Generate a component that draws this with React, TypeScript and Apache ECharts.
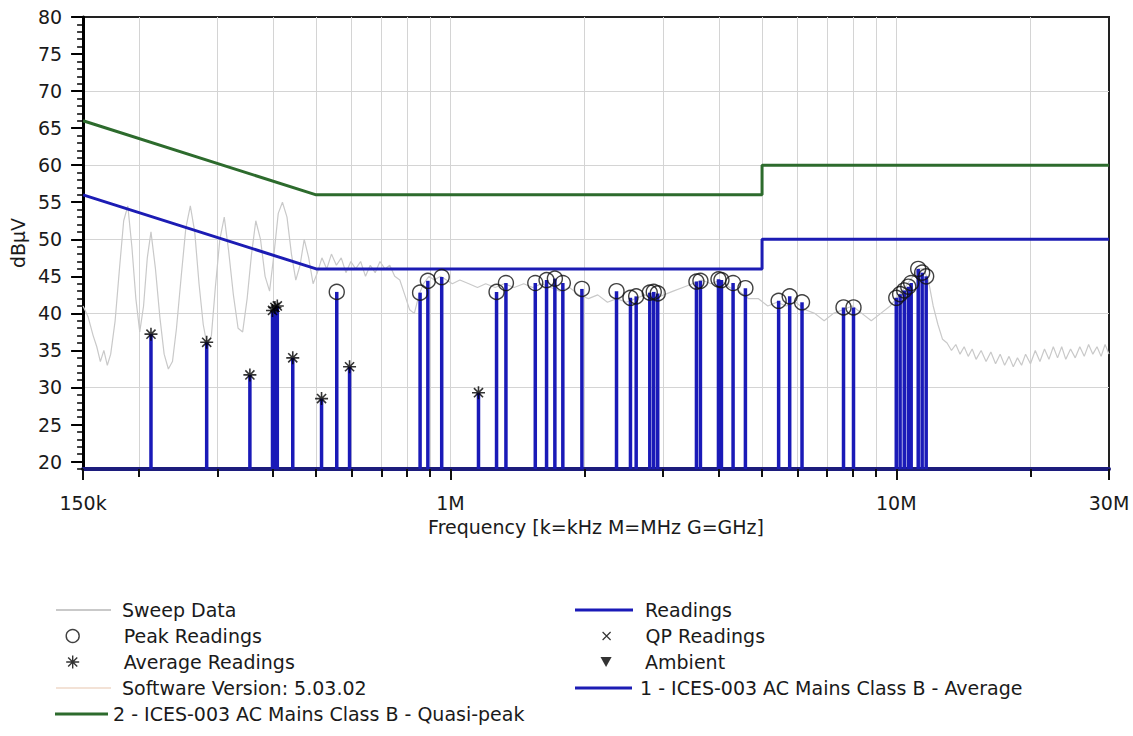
import React, { useEffect, useRef } from 'react';
import * as echarts from 'echarts';

// ---------- axes ----------
const FREQ_MIN = 150000;
const FREQ_MAX = 30000000;
const LEVEL_MIN = 19;
const LEVEL_MAX = 80;
const yLabelValues = [20, 25, 30, 35, 40, 45, 50, 55, 60, 65, 70, 75, 80];
const yGridValues = [30, 40, 50, 60, 70];
const xLabelValues = [150000, 1000000, 10000000, 30000000];
const xMinorValues = [
  200000, 300000, 400000, 500000, 600000, 700000, 800000, 900000, 1000000,
  2000000, 3000000, 4000000, 5000000, 6000000, 7000000, 8000000, 9000000, 10000000,
  20000000,
];

// ---------- limit lines ----------
const qpLimitFreq = [150000, 500000, 5000000, 5000000, 30000000];
const qpLimitLevel = [66, 56, 56, 60, 60];
const avgLimitFreq = [150000, 500000, 5000000, 5000000, 30000000];
const avgLimitLevel = [56, 46, 46, 50, 50];

// ---------- sweep trace (kHz, dBµV) ----------
const sweepFreqKHz = [
  150, 154, 158, 161, 164, 167, 170, 173, 177, 181, 185, 189, 193, 197, 201, 205, 209, 213, 218, 223,
  228, 233, 238, 243, 249, 255, 261, 267, 273, 279, 285, 291, 297, 304, 311, 318, 326, 334, 342, 350,
  358, 366, 375, 384, 393, 402, 411, 420, 430, 440, 450, 460, 470, 481, 492, 503, 515, 528, 541, 555,
  569, 583, 598, 613, 629, 645, 661, 678, 695, 713, 731, 750, 770, 790, 810, 830, 850, 870, 895, 920,
  950, 980, 1010, 1050, 1100, 1150, 1200, 1260, 1320, 1390, 1460, 1530, 1600, 1680, 1760, 1850, 1940,
  2040, 2140, 2250, 2360, 2480, 2600, 2730, 2870, 3010, 3160, 3320, 3490, 3660, 3840, 4030, 4230, 4440,
  4660, 4900, 5150, 5400, 5670, 5950, 6250, 6560, 6890, 7230, 7590, 7970, 8370, 8790, 9230, 9690, 10000,
  10300, 10600, 10900, 11200, 11500, 11800, 12100, 12400, 12700, 13000, 13300, 13600, 13900, 14200,
  14500, 14800, 15100, 15500, 15900, 16300, 16700, 17100, 17500, 17900, 18300, 18700, 19100, 19500,
  20000, 20500, 21000, 21500, 22000, 22500, 23000, 23500, 24000, 24600, 25200, 25800, 26400, 27000,
  27600, 28200, 28800, 29400, 30000,
];
const sweepLevel = [
  41.0, 39.5, 37.0, 35.5, 33.5, 35.0, 33.0, 34.5, 39.0, 46.0, 52.5, 54.5, 49.0, 42.0, 37.5, 41.0, 47.5, 51.0, 46.0, 39.5,
  34.5, 32.5, 33.5, 38.0, 45.0, 51.5, 54.5, 51.0, 44.0, 38.5, 35.5, 37.0, 43.5, 50.0, 53.0, 48.5, 42.5, 38.0, 37.5, 42.0,
  48.0, 52.5, 50.0, 45.0, 43.0, 48.0, 53.5, 55.0, 53.0, 48.0, 44.5, 46.5, 50.0, 47.5, 44.0, 45.5, 47.5, 46.0, 48.0, 46.5,
  47.5, 45.5, 47.0, 46.0, 47.0, 45.0, 46.5, 45.5, 47.0, 46.0, 46.5, 45.0, 44.5, 42.5, 40.5, 40.0, 42.5, 44.0, 45.0, 44.5,
  45.0, 44.5, 44.0, 44.5, 44.0, 43.5, 44.0, 43.5, 44.0, 43.5, 44.0, 43.5, 44.0, 43.5, 43.0, 43.5, 42.5,
  42.0, 42.5, 41.5, 42.0, 41.5, 42.0, 42.5, 42.0, 42.5, 43.0, 43.5, 44.0, 44.5, 44.0, 44.5, 43.5, 43.0,
  42.0, 42.0, 41.0, 41.5, 41.0, 41.5, 40.5, 40.0, 39.0, 40.0, 40.5, 41.0, 40.0, 39.0, 40.0, 41.0, 42.0,
  43.0, 44.0, 45.0, 46.0, 46.0, 44.5, 41.0, 38.5, 36.5, 36.0, 35.0, 35.8, 34.5, 35.5,
  34.2, 35.2, 33.8, 35.0, 33.5, 34.8, 33.2, 34.5, 33.0, 34.2, 32.8, 34.0, 33.0, 34.5,
  33.2, 35.0, 33.5, 35.2, 33.8, 35.5, 34.0, 35.5, 33.8, 35.2, 34.0, 35.5, 34.2, 35.8,
  34.5, 35.5, 34.2, 35.8, 34.5,
];

// ---------- readings ----------
const peakFreqKHz = [
  556, 855, 890, 956, 1269, 1332, 1550, 1643, 1715, 1787, 1972, 2358, 2534, 2610, 2800, 2858, 2917,
  3563, 3637, 3992, 4054, 4305, 4588, 5447, 5767, 6146, 7615, 8018, 10000, 10200, 10420, 10640, 10800,
  11200, 11430, 11670,
];
const peakLevel = [
  42.9, 42.8, 44.4, 44.9, 42.9, 44.1, 44.1, 44.5, 44.7, 44.1, 43.3, 43.0, 42.1, 42.3, 42.8, 42.9, 42.7,
  44.3, 44.4, 44.6, 44.5, 44.1, 43.4, 41.7, 42.3, 41.5, 40.8, 40.8, 42.1, 42.6, 43.1, 43.6, 44.1,
  46.0, 45.5, 45.0,
];
const averageFreqKHz = [213, 284, 355, 399, 404, 409, 443, 514, 594, 1156];
const averageLevel = [37.2, 36.1, 31.7, 40.4, 40.8, 41.0, 34.0, 28.5, 32.8, 29.3];

// ---------- colours ----------
const SWEEP_COLOR = '#c9c9c9';
const QP_COLOR = '#2d6b2d';
const AVG_COLOR = '#1c1cb4';
const STEM_COLOR = '#1a1ab8';
const FONT = 'DejaVu Sans';

const ASTERISK =
  'path://M6 0L6 12M0 6L12 6M1.8 1.8L10.2 10.2M1.8 10.2L10.2 1.8';
const CROSS = 'path://M0 0L8 8M0 8L8 0';
const DOWN_TRIANGLE = 'path://M0 0L10 0L5 9Z';

const pairs = (xs: number[], ys: number[], scale = 1) => xs.map((x, i) => [x * scale, ys[i]]);

function buildOption() {
  const sweep = pairs(sweepFreqKHz, sweepLevel, 1000);
  const peaks = pairs(peakFreqKHz, peakLevel, 1000);
  const avgs = pairs(averageFreqKHz, averageLevel, 1000);
  const readings = [...avgs, ...peaks];

  const legendText = { fontFamily: FONT, fontSize: 19, color: '#1a1a1a', lineHeight: 22 };
  const mkLegend = (
    name: string,
    left: number,
    centerY: number,
    itemWidth: number,
    itemHeight: number,
    icon: string,
    itemStyle: any,
    textPad: number,
  ) => ({
    show: true,
    orient: 'horizontal',
    left,
    top: centerY - 11,
    padding: 0,
    itemWidth,
    itemHeight,
    selectedMode: false,
    data: [{ name, icon, itemStyle }],
    textStyle: { ...legendText, padding: [0, 0, 0, textPad] },
  });

  const fmtFreq = (v: number) => {
    const r = Math.round(v);
    if (r >= 1000000) return Math.round(r / 1000000) + 'M';
    return Math.round(r / 1000) + 'k';
  };

  return {
    animation: false,
    backgroundColor: '#ffffff',
    textStyle: { fontFamily: FONT },
    grid: {
      left: 82,
      right: 24,
      top: 17,
      bottom: 267,
      show: true,
      borderColor: '#222',
      borderWidth: 2,
      backgroundColor: 'transparent',
    },
    legend: [
      mkLegend('Sweep Data', 56, 610, 55, 2, 'rect', { color: SWEEP_COLOR, borderWidth: 0 }, 6),
      mkLegend('Peak Readings', 65.5, 636, 55, 13, 'circle', { color: '#fff', borderColor: '#111', borderWidth: 1.4 }, 18.5),
      mkLegend('Average Readings', 65.5, 662, 55, 13, ASTERISK, { color: '#000', borderColor: '#000', borderWidth: 1.4 }, 18.5),
      mkLegend('Software Version: 5.03.02', 56, 688, 55, 2, 'rect', { color: '#f3e2d6', borderWidth: 0 }, 6),
      mkLegend('2 - ICES-003 AC Mains Class B - Quasi-peak', 55, 714, 53, 3, 'rect', { color: QP_COLOR, borderWidth: 0 }, 0),
      mkLegend('Readings', 575, 610, 58, 3, 'rect', { color: STEM_COLOR, borderWidth: 0 }, 7),
      mkLegend('QP Readings', 602, 636, 58, 8, CROSS, { color: '#000', borderColor: '#000', borderWidth: 1.2 }, 5),
      mkLegend('Ambient', 600.5, 662, 58, 10, DOWN_TRIANGLE, { color: '#000', borderWidth: 0 }, 5),
      mkLegend('1 - ICES-003 AC Mains Class B - Average', 575, 688, 57, 3, 'rect', { color: AVG_COLOR, borderWidth: 0 }, 3),
    ],
    xAxis: [
      {
        type: 'log',
        logBase: 10,
        min: FREQ_MIN,
        max: FREQ_MAX,
        position: 'bottom',
        name: 'Frequency [k=kHz M=MHz G=GHz]',
        nameLocation: 'middle',
        nameGap: 48,
        nameTextStyle: { fontFamily: FONT, fontSize: 19, color: '#1a1a1a' },
        axisLine: { show: true, onZero: false, lineStyle: { color: '#1c1c7c', width: 4 } },
        axisTick: { show: true, customValues: xLabelValues, length: 11, lineStyle: { color: '#111', width: 2 } },
        axisLabel: {
          show: true,
          customValues: xLabelValues,
          margin: 24,
          fontFamily: FONT,
          fontSize: 19,
          color: '#1a1a1a',
          formatter: (v: number) => fmtFreq(v),
        },
        splitLine: { show: false },
      },
      {
        type: 'log',
        logBase: 10,
        min: FREQ_MIN,
        max: FREQ_MAX,
        position: 'bottom',
        axisLine: { show: false },
        axisTick: { show: true, customValues: xMinorValues, length: 8, lineStyle: { color: '#111', width: 2 } },
        axisLabel: { show: false },
        splitLine: { show: true, lineStyle: { color: '#d4d4d4', width: 1 } },
      },
    ],
    yAxis: [
      {
        type: 'value',
        min: LEVEL_MIN,
        max: LEVEL_MAX,
        position: 'left',
        name: 'dBµV',
        nameLocation: 'middle',
        nameGap: 40,
        nameTextStyle: { fontFamily: FONT, fontSize: 19, color: '#1a1a1a' },
        axisLine: { show: true, onZero: false, lineStyle: { color: '#000', width: 3 } },
        axisTick: { show: true, customValues: yLabelValues, length: 12, lineStyle: { color: '#000', width: 2 } },
        axisLabel: {
          show: true,
          customValues: yLabelValues,
          margin: 21,
          fontFamily: FONT,
          fontSize: 19,
          color: '#1a1a1a',
        },
        splitLine: { show: false },
      },
      {
        type: 'value',
        min: LEVEL_MIN,
        max: LEVEL_MAX,
        interval: 1,
        position: 'left',
        axisLine: { show: false },
        axisTick: { show: true, length: 6, lineStyle: { color: '#000', width: 1.5 } },
        axisLabel: { show: false },
        splitLine: { show: false },
      },
      {
        type: 'value',
        min: LEVEL_MIN,
        max: LEVEL_MAX,
        position: 'left',
        axisLine: { show: false },
        axisTick: { show: false, customValues: yGridValues },
        axisLabel: { show: false },
        splitLine: { show: true, lineStyle: { color: '#d4d4d4', width: 1 } },
      },
    ],
    series: [
      {
        name: 'Sweep Data',
        type: 'line',
        data: sweep,
        symbol: 'none',
        color: SWEEP_COLOR,
        lineStyle: { color: SWEEP_COLOR, width: 1.2 },
        z: 1,
      },
      { name: 'Software Version: 5.03.02', type: 'line', data: [], color: '#f3e2d6' },
      {
        name: '2 - ICES-003 AC Mains Class B - Quasi-peak',
        type: 'line',
        data: pairs(qpLimitFreq, qpLimitLevel),
        symbol: 'none',
        color: QP_COLOR,
        lineStyle: { color: QP_COLOR, width: 3 },
        z: 2,
      },
      {
        name: '1 - ICES-003 AC Mains Class B - Average',
        type: 'line',
        data: pairs(avgLimitFreq, avgLimitLevel),
        symbol: 'none',
        color: AVG_COLOR,
        lineStyle: { color: AVG_COLOR, width: 3 },
        z: 2,
      },
      {
        name: 'Readings',
        type: 'custom',
        color: STEM_COLOR,
        data: readings,
        z: 3,
        renderItem: (_params: any, api: any) => {
          const f = api.value(0);
          const v = api.value(1);
          const top = api.coord([f, v]);
          const bottom = api.coord([f, LEVEL_MIN]);
          return {
            type: 'line',
            shape: { x1: top[0], y1: top[1], x2: bottom[0], y2: bottom[1] },
            style: { stroke: STEM_COLOR, lineWidth: 3.5 },
          };
        },
      },
      {
        name: 'Peak Readings',
        type: 'scatter',
        data: peaks,
        symbol: 'circle',
        symbolSize: 15,
        itemStyle: { color: 'rgba(255,255,255,0)', borderColor: '#111', borderWidth: 1.4 },
        z: 4,
      },
      {
        name: 'Average Readings',
        type: 'scatter',
        data: avgs,
        symbol: ASTERISK,
        symbolSize: 13,
        itemStyle: { color: '#000', borderColor: '#000', borderWidth: 1.6 },
        z: 4,
      },
      { name: 'QP Readings', type: 'scatter', data: [], symbol: CROSS, itemStyle: { color: '#000' } },
      { name: 'Ambient', type: 'scatter', data: [], symbol: DOWN_TRIANGLE, itemStyle: { color: '#000' } },
    ],
  };
}

export default function App() {
  const ref = useRef<HTMLDivElement>(null);
  useEffect(() => {
    if (!ref.current) return;
    const chart = echarts.init(ref.current, null, { renderer: 'svg' });
    chart.setOption(buildOption() as any);
    return () => {
      chart.dispose();
    };
  }, []);
  return (
    <div
      ref={ref}
      style={{ position: 'absolute', left: 0, top: 0, width: 1133, height: 736, background: '#fff' }}
    />
  );
}
